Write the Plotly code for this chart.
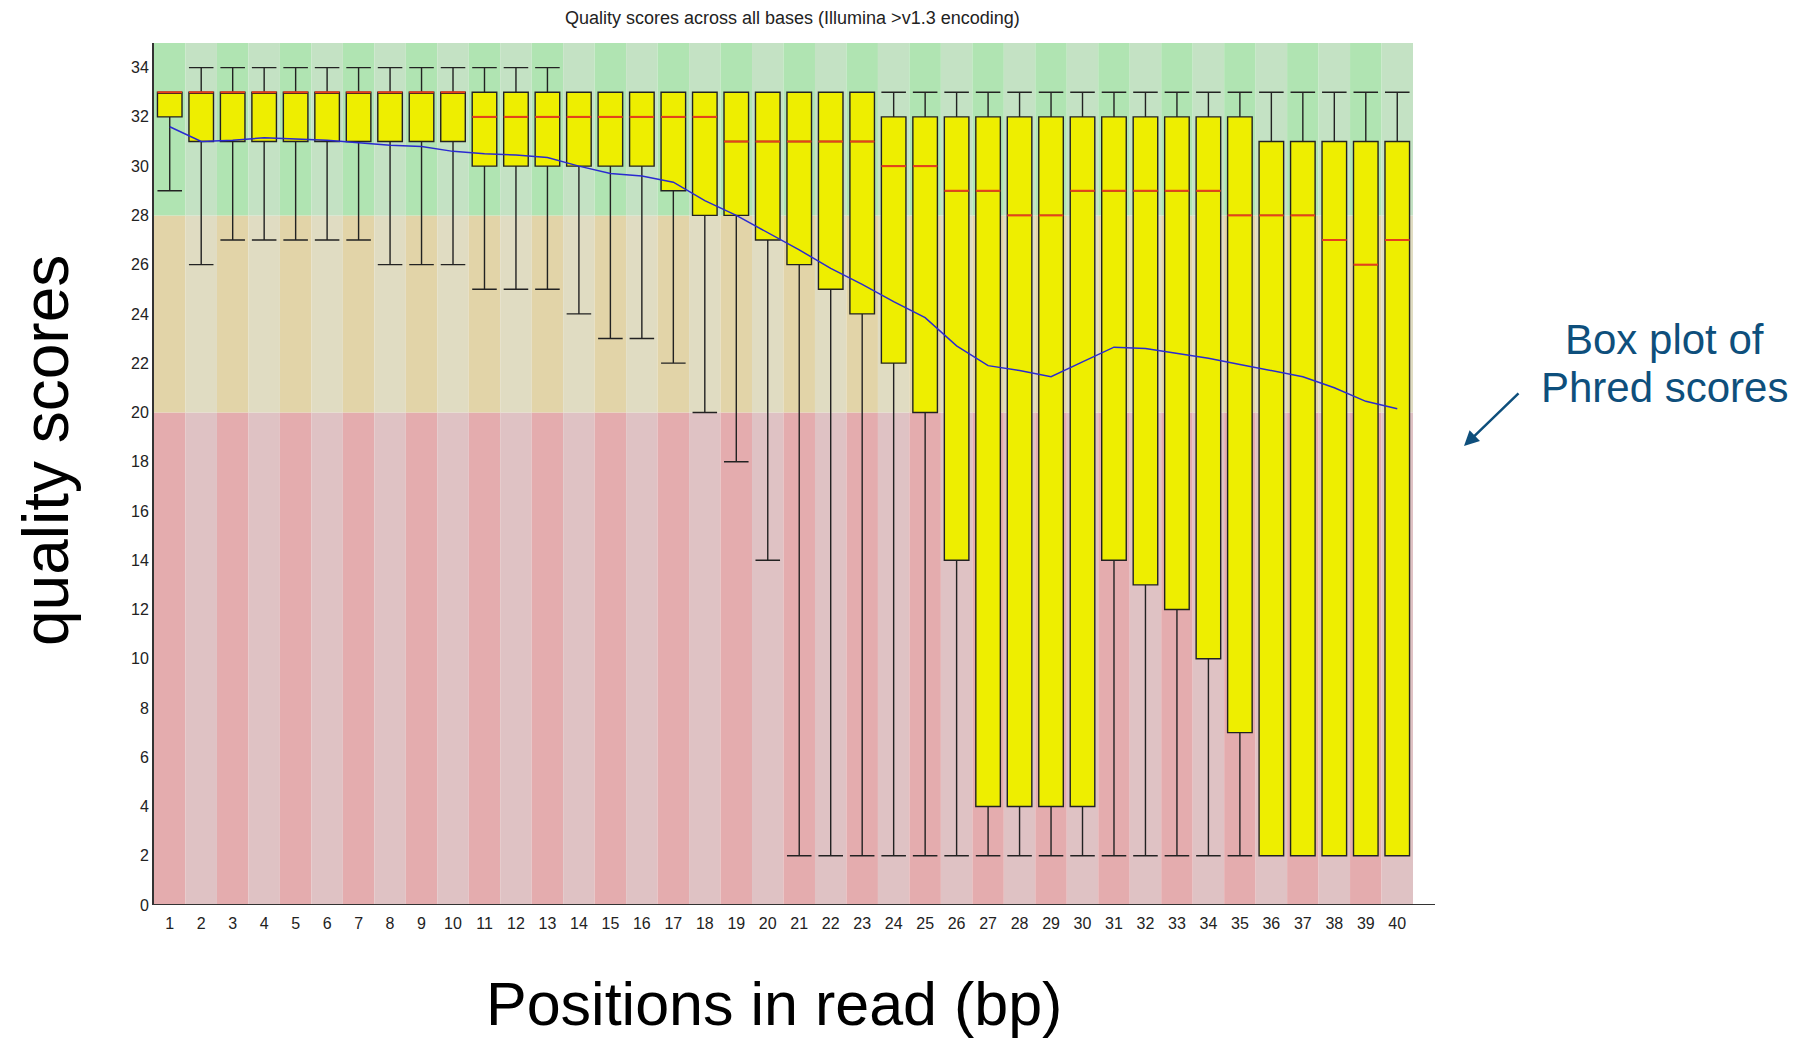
import plotly.graph_objects as go

positions = list(range(1, 41))
tick_labels = [str(p) for p in positions]

lower_whisker = [29, 26, 27, 27, 27, 27, 27, 26, 26, 26,
                 25, 25, 25, 24, 23, 23, 22, 20, 18, 14,
                 2, 2, 2, 2, 2, 2, 2, 2, 2, 2,
                 2, 2, 2, 2, 2, 2, 2, 2, 2, 2]
q1 = [32, 31, 31, 31, 31, 31, 31, 31, 31, 31,
      30, 30, 30, 30, 30, 30, 29, 28, 28, 27,
      26, 25, 24, 22, 20, 14, 4, 4, 4, 4,
      14, 13, 12, 10, 7, 2, 2, 2, 2, 2]
median = [33, 33, 33, 33, 33, 33, 33, 33, 33, 33,
          32, 32, 32, 32, 32, 32, 32, 32, 31, 31,
          31, 31, 31, 30, 30, 29, 29, 28, 28, 29,
          29, 29, 29, 29, 28, 28, 28, 27, 26, 27]
q3 = [33, 33, 33, 33, 33, 33, 33, 33, 33, 33,
      33, 33, 33, 33, 33, 33, 33, 33, 33, 33,
      33, 33, 33, 32, 32, 32, 32, 32, 32, 32,
      32, 32, 32, 32, 32, 31, 31, 31, 31, 31]
upper_whisker = [33, 34, 34, 34, 34, 34, 34, 34, 34, 34,
                 34, 34, 34, 33, 33, 33, 33, 33, 33, 33,
                 33, 33, 33, 33, 33, 33, 33, 33, 33, 33,
                 33, 33, 33, 33, 33, 33, 33, 33, 33, 33]
mean = [31.6, 31.0, 31.05, 31.15, 31.1, 31.05, 30.95, 30.85, 30.8, 30.6,
        30.5, 30.45, 30.35, 30.0, 29.7, 29.6, 29.35, 28.6, 28.0, 27.3,
        26.6, 25.85, 25.2, 24.5, 23.85, 22.7, 21.9, 21.7, 21.45, 22.05,
        22.65, 22.6, 22.4, 22.2, 21.95, 21.7, 21.45, 21.0, 20.45, 20.15]

zones = [(0, 20, "#e4acae", "#dfc2c4"),
         (20, 28, "#e2d4a8", "#e0dcc2"),
         (28, 35, "#b0e4b2", "#c4e2c4")]

W, H = 1815, 1039
L, R, T, B = 154, 1413, 43, 905


def px(x):
    return (x - L) / (R - L)


def py(y):
    return (B - y) / (B - T)


shapes = []
for p in positions:
    for y0, y1, dark, light in zones:
        shapes.append(dict(type="rect", xref="x", yref="y", x0=p - 0.5, x1=p + 0.5,
                           y0=y0, y1=y1, fillcolor=dark if p % 2 == 1 else light,
                           line=dict(width=0), layer="below"))
shapes.append(dict(type="line", xref="paper", yref="y", x0=0, x1=px(1435), y0=0, y1=0,
                   line=dict(color="#333333", width=2)))

fig = go.Figure()
fig.add_trace(go.Box(
    x=positions, q1=q1, median=median, q3=q3,
    lowerfence=lower_whisker, upperfence=upper_whisker,
    fillcolor="#eeee00", line=dict(color="#222222", width=1.4),
    whiskerwidth=1, width=0.78, boxpoints=False, showlegend=False, hoverinfo="skip",
))
fig.add_trace(go.Scatter(
    x=positions, y=median, mode="markers",
    marker=dict(symbol="line-ew", size=17.5, line=dict(color="#e8401c", width=2)),
    showlegend=False, hoverinfo="skip",
))
fig.add_trace(go.Scatter(
    x=positions, y=mean, mode="lines",
    line=dict(color="#2a2ad0", width=1.5), showlegend=False, hoverinfo="skip",
))

blue = "#0e4f7c"
annotations = [
    dict(text="Quality scores across all bases (Illumina >v1.3 encoding)",
         xref="paper", yref="paper", x=px(792), y=py(18.5), showarrow=False,
         xanchor="center", yanchor="middle",
         font=dict(family="Liberation Sans", size=18, color="#222222")),
    dict(text="quality scores", xref="paper", yref="paper", x=px(46), y=py(451),
         textangle=-90, showarrow=False, xanchor="center", yanchor="middle",
         font=dict(family="Liberation Sans", size=64, color="#000000")),
    dict(text="Positions in read (bp)", xref="paper", yref="paper", x=px(774), y=py(1004),
         showarrow=False, xanchor="center", yanchor="middle",
         font=dict(family="Liberation Sans", size=61, color="#000000")),
    dict(text="Box plot of", xref="paper", yref="paper", x=px(1664), y=py(339),
         showarrow=False, xanchor="center", yanchor="middle",
         font=dict(family="Liberation Sans", size=42, color=blue)),
    dict(text="Phred scores", xref="paper", yref="paper", x=px(1664), y=py(387),
         showarrow=False, xanchor="center", yanchor="middle",
         font=dict(family="Liberation Sans", size=42, color=blue)),
    dict(text="", xref="paper", yref="paper", x=px(1464), y=py(446),
         ax=56, ay=-54, showarrow=True, arrowhead=2, arrowsize=1.2, arrowwidth=2.5,
         arrowcolor=blue),
]

fig.update_layout(
    width=W, height=H,
    margin=dict(l=L, r=W - R, t=T, b=H - B),
    paper_bgcolor="white", plot_bgcolor="white",
    shapes=shapes, annotations=annotations,
    xaxis=dict(range=[0.5, 40.5], tickmode="array", tickvals=positions, ticktext=tick_labels,
               showgrid=False, zeroline=False, showline=False, ticks="",
               ticklabelstandoff=7,
               tickfont=dict(family="Liberation Sans", size=16, color="#222222")),
    yaxis=dict(range=[0, 35], tickmode="array", tickvals=list(range(0, 35, 2)),
               showgrid=False, zeroline=False, showline=True, linecolor="#333333", linewidth=2,
               ticks="", tickfont=dict(family="Liberation Sans", size=16, color="#222222")),
)

fig.write_html("out.html")
